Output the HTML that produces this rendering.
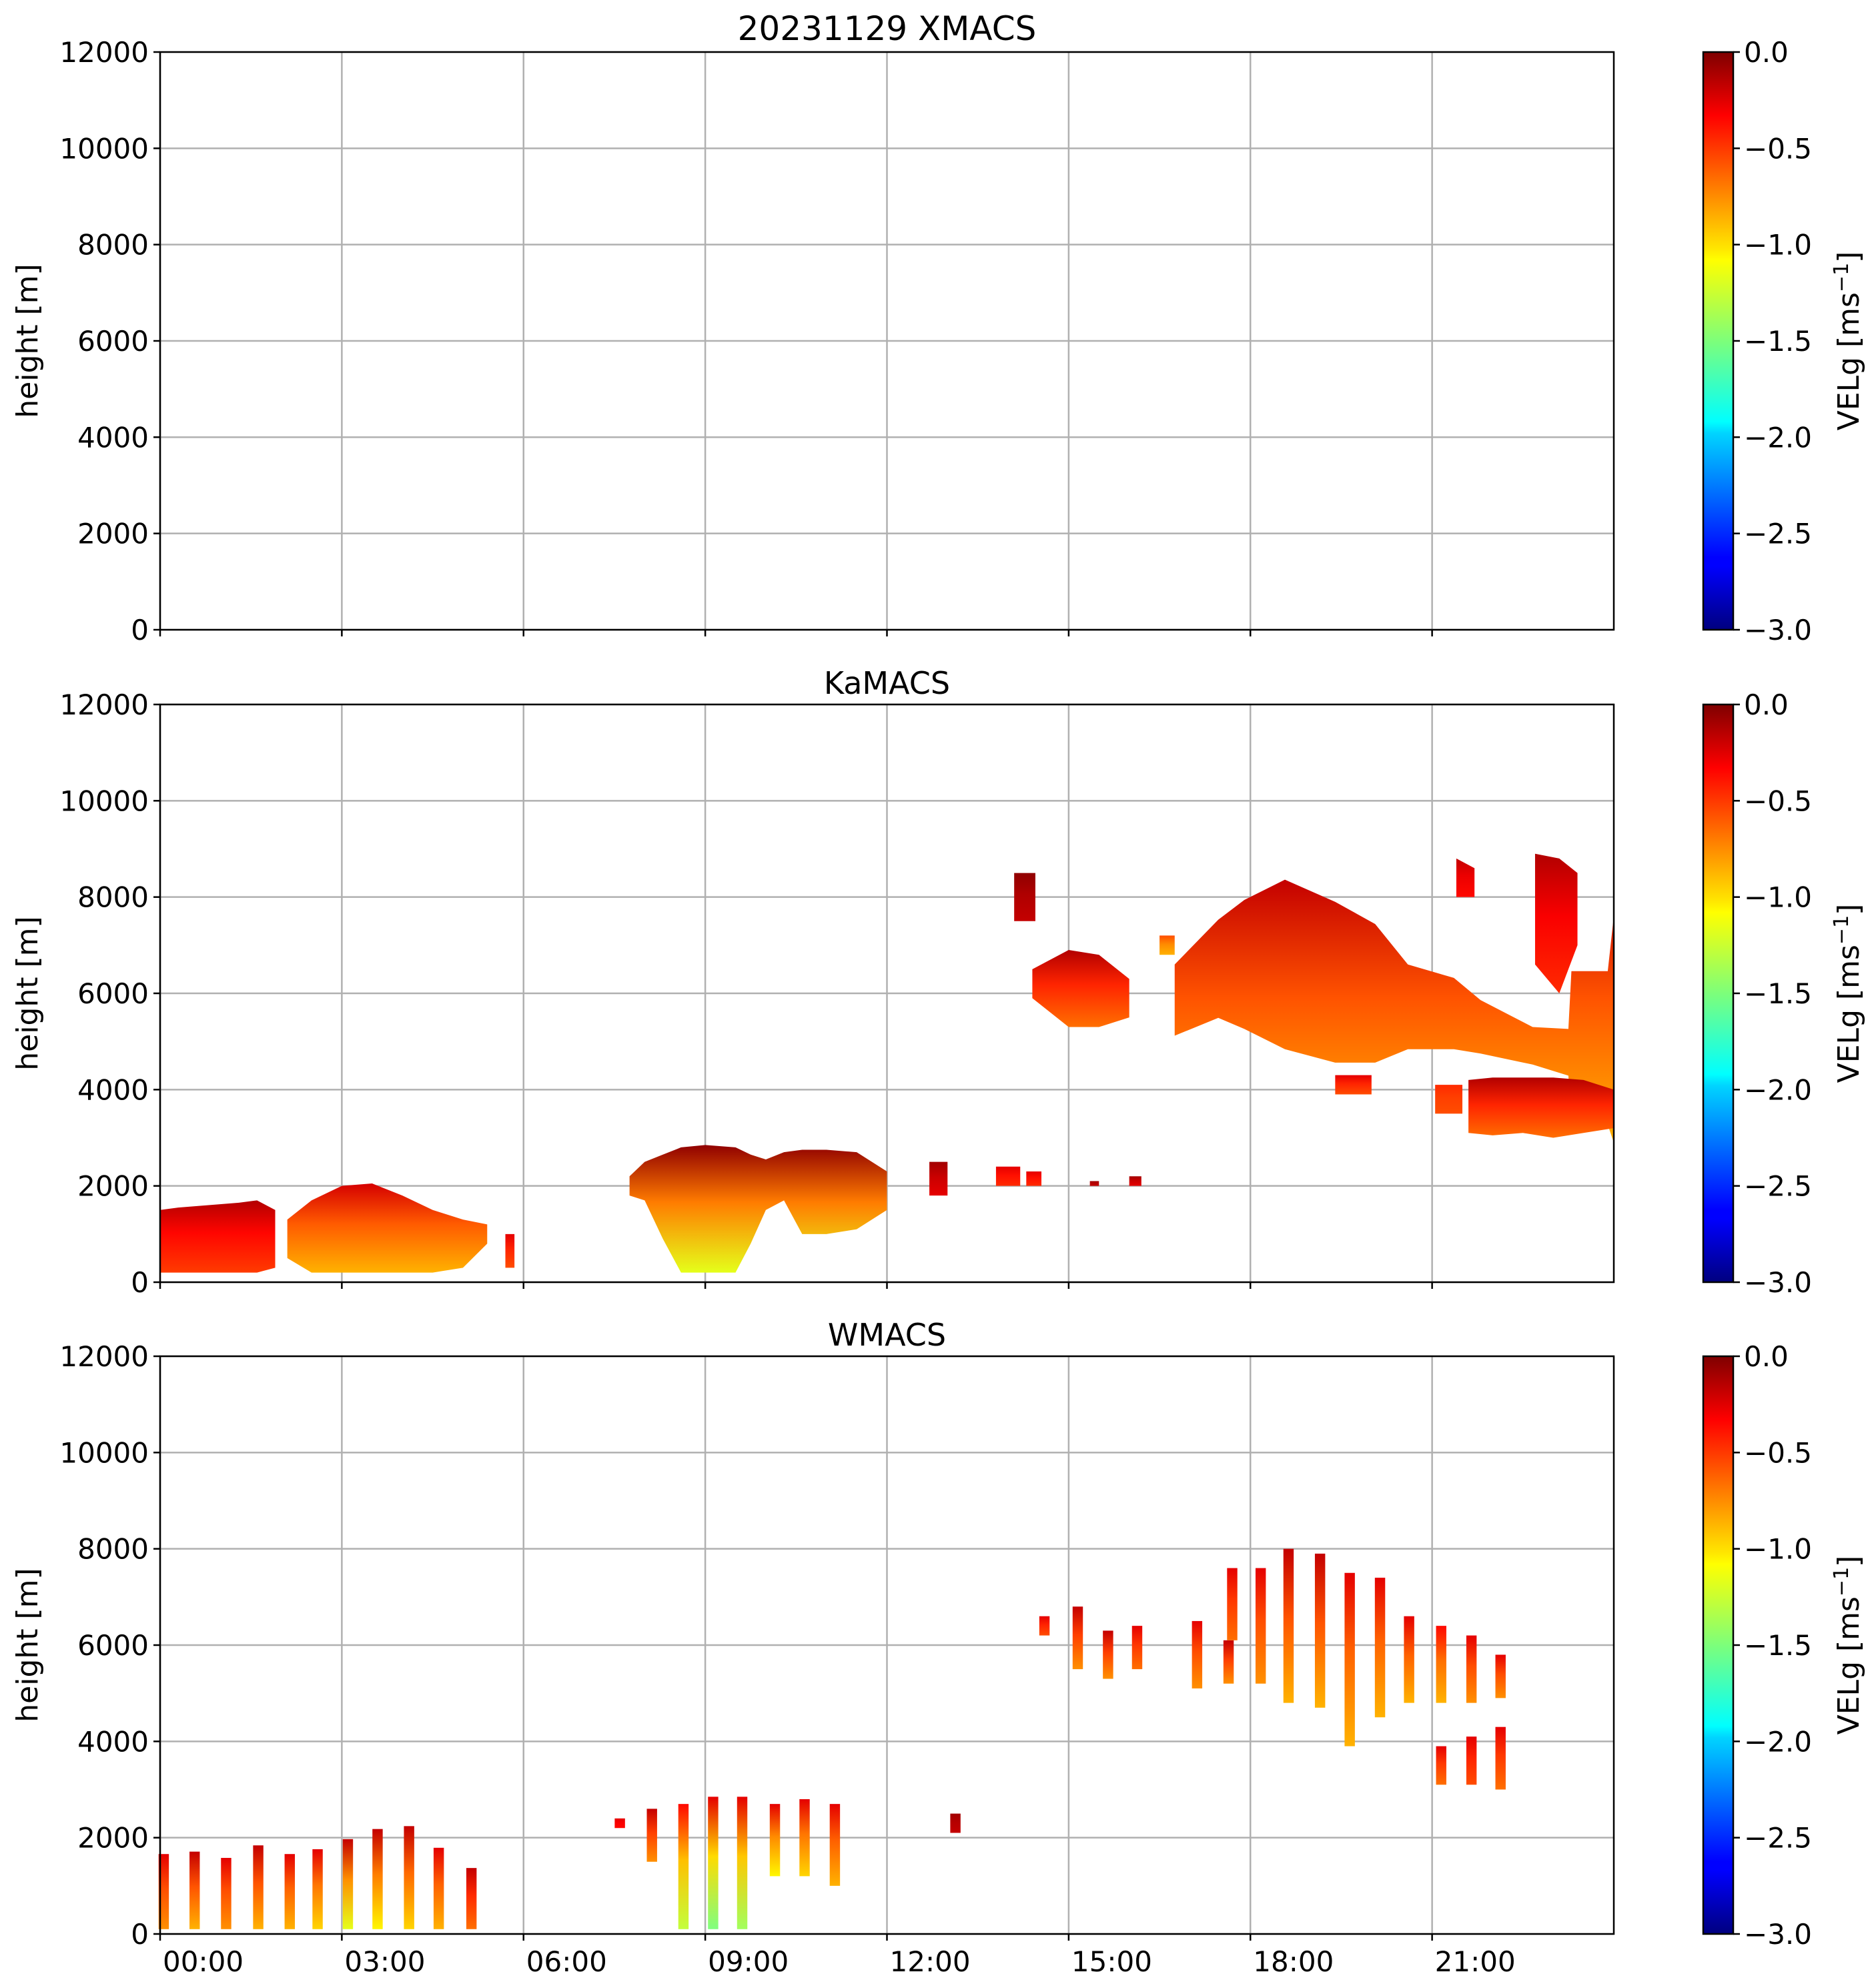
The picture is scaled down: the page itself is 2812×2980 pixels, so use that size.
<!DOCTYPE html>
<html><head><meta charset="utf-8"><style>
html,body{margin:0;padding:0;background:#fff}
svg{display:block}
text{font-family:"DejaVu Sans","Liberation Sans",sans-serif;fill:#000}
</style></head><body>
<svg id="fig" width="2812" height="2980" viewBox="0 0 2812 2980" xmlns="http://www.w3.org/2000/svg">
<defs id="defs">
<linearGradient id="jetbar" x1="0" y1="1" x2="0" y2="0">
<stop offset="0" stop-color="#00007f"/><stop offset="0.11" stop-color="#0000ff"/><stop offset="0.125" stop-color="#0000ff"/><stop offset="0.34" stop-color="#00d4ff"/><stop offset="0.36" stop-color="#0ff"/><stop offset="0.5" stop-color="#7dff7a"/><stop offset="0.64" stop-color="#ff0"/><stop offset="0.66" stop-color="#ffe600"/><stop offset="0.89" stop-color="#ff0000"/><stop offset="1" stop-color="#7f0000"/>
</linearGradient>
</defs>
<g id="root"></g>
</svg>
<script>
// ---- data ----
const panelNames = ["XMACS","KaMACS","WMACS"];
const yTicks = [0,2000,4000,6000,8000,10000,12000];
const xTickHours = [0,3,6,9,12,15,18,21];
const xTickLabels = ["00:00","03:00","06:00","09:00","12:00","15:00","18:00","21:00"];
const cbTicks = [0,-0.5,-1,-1.5,-2,-2.5,-3];
const cbLabels = ["0.0","\u22120.5","\u22121.0","\u22121.5","\u22122.0","\u22122.5","\u22123.0"];

// KaMACS cloud blobs: hour nodes, top & bottom heights (m), velocity at top / bottom
const kaBlobHours = [
 [0.0,0.3,0.8,1.3,1.6,1.9],
 [2.1,2.5,3.0,3.5,4.0,4.5,5.0,5.4],
 [5.7,5.85],
 [7.75,8.0,8.3,8.6,9.0,9.5,9.75,10.0,10.3,10.6,11.0,11.5,12.0],
 [12.7,13.0],[13.8,14.2],[14.3,14.55],[15.35,15.5],[16.0,16.2],
 [14.1,14.45],
 [14.4,15.0,15.5,16.0],
 [16.5,16.75],
 [16.75,17.47,17.9,18.57,19.4,20.06,20.6,21.36,21.8,22.66,23.25,23.3,23.9,24.0],
 [21.6,22.0,22.5,23.0,23.5,24.0],
 [21.05,21.5],
 [19.4,20.0],
 [21.4,21.7],[22.7,23.1,23.4]
];
const kaBlobTops = [
 [1500,1550,1600,1650,1700,1500],
 [1300,1700,2000,2050,1800,1500,1300,1200],
 [1000,1000],
 [2200,2500,2650,2800,2850,2800,2650,2550,2700,2750,2750,2700,2300],
 [2500,2500],[2400,2400],[2300,2300],[2100,2100],[2200,2200],
 [8500,8500],
 [6500,6900,6800,6300],
 [7200,7200],
 [6600,7530,7940,8360,7900,7440,6600,6320,5860,5300,5260,6460,6460,7600],
 [4200,4250,4250,4250,4200,4000],
 [4100,4100],
 [4300,4300],
 [8800,8600],[8900,8800,8500]
];
const kaBlobBots = [
 [200,200,200,200,200,300],
 [500,200,200,200,200,200,300,800],
 [300,300],
 [1800,1700,900,200,200,200,800,1500,1700,1000,1000,1100,1500],
 [1800,1800],[2000,2000],[2000,2000],[2000,2000],[2000,2000],
 [7500,7500],
 [5900,5300,5300,5500],
 [6800,6800],
 [5120,5490,5260,4840,4560,4560,4840,4840,4750,4520,4290,3270,3270,2900],
 [3100,3050,3100,3000,3100,3200],
 [3500,3500],
 [3900,3900],
 [8000,8000],[6600,6000,7000]
];
const kaBlobVTop = [-0.15,-0.25,-0.3,-0.05,-0.1,-0.3,-0.3,-0.1,-0.1,-0.05,-0.15,-0.6,-0.2,-0.15,-0.5,-0.3,-0.2,-0.15];
const kaBlobVBot = [-0.55,-0.9,-0.6,-1.2,-0.3,-0.5,-0.5,-0.2,-0.3,-0.2,-0.7,-0.9,-0.9,-0.7,-0.6,-0.6,-0.4,-0.5];

// WMACS columns: hour, top, bottom, velocity top, velocity bottom
const wHours = [0.06,0.57,1.09,1.62,2.14,2.6,3.1,3.59,4.11,4.6,5.14,
 7.59,8.12,8.64,9.13,9.61,10.15,10.64,11.14,13.13,
 14.6,15.15,15.65,16.13,17.12,17.64,17.7,18.17,18.63,19.15,19.64,20.14,20.62,21.15,21.15,21.65,21.65,22.13,22.13];
const wTops = [1660,1710,1580,1840,1660,1760,1970,2180,2240,1790,1370,
 2400,2600,2700,2850,2850,2700,2800,2700,2500,
 6600,6800,6300,6400,6500,6100,7600,7600,8000,7900,7500,7400,6600,6400,3900,6200,4100,5800,4300];
const wBots = [100,100,100,100,100,100,100,100,100,100,100,
 2200,1500,100,100,100,1200,1200,1000,2100,
 6200,5500,5300,5500,5100,5200,6100,5200,4800,4700,3900,4500,4800,4800,3100,4800,3100,4900,3000];
const wVTop = [-0.3,-0.2,-0.3,-0.2,-0.3,-0.3,-0.2,-0.2,-0.2,-0.3,-0.2,
 -0.3,-0.2,-0.4,-0.3,-0.3,-0.3,-0.3,-0.3,-0.1,
 -0.3,-0.2,-0.2,-0.3,-0.3,-0.2,-0.3,-0.3,-0.2,-0.2,-0.3,-0.3,-0.3,-0.4,-0.3,-0.3,-0.3,-0.3,-0.3];
const wVBot = [-0.8,-0.9,-0.8,-0.9,-0.9,-1.0,-1.2,-1.1,-1.0,-0.9,-0.7,
 -0.4,-0.8,-1.3,-1.5,-1.4,-1.1,-1.0,-0.9,-0.2,
 -0.6,-0.8,-0.8,-0.7,-0.8,-0.8,-0.7,-0.8,-0.9,-0.9,-0.9,-0.9,-0.9,-0.9,-0.7,-0.8,-0.6,-0.8,-0.7];
const wWidthH = 0.17;

// ---- layout ----
const NS="http://www.w3.org/2000/svg";
const root=document.getElementById('root');
const defs=document.getElementById('defs');
const X0=240, X1=2419;
const panelTops=[78,1056,2033];
const PH=866;
const CBX=2553, CBW=45;
function xs(h){return X0+(h/24)*(X1-X0);}
function ys(p,m){return panelTops[p]+PH-(m/12000)*PH;}
function jet(v){
  let t=Math.max(0,Math.min(1,(v+3)/3));
  function c(x){return Math.max(0,Math.min(1,x));}
  const r=c(1.5-Math.abs(4*t-3)), g=c(1.5-Math.abs(4*t-2)), b=c(1.5-Math.abs(4*t-1));
  return `rgb(${Math.round(r*255)},${Math.round(g*255)},${Math.round(b*255)})`;
}
function el(tag,attrs,parent){const e=document.createElementNS(NS,tag);for(const k in attrs)e.setAttribute(k,attrs[k]);(parent||root).appendChild(e);return e;}
let gid=0;
function grad(vt,vb){
  const id='g'+(gid++);
  const g=el('linearGradient',{id:id,x1:0,y1:0,x2:0,y2:1},defs);
  el('stop',{offset:0,'stop-color':jet(vt)},g);
  el('stop',{offset:0.45,'stop-color':jet(vt*0.4+vb*0.6)},g);
  el('stop',{offset:1,'stop-color':jet(vb)},g);
  return id;
}

for(let p=0;p<3;p++){
  const top=panelTops[p], bot=top+PH;
  const g=el('g',{});
  
  
  xTickHours.forEach(h=>{
    const l=el('line',{x1:xs(h),x2:xs(h),y1:top,y2:bot,stroke:'#b0b0b0','stroke-width':2.5},g);
    
    
  });
  yTicks.forEach(v=>{
    const l=el('line',{x1:X0,x2:X1,y1:ys(p,v),y2:ys(p,v),stroke:'#b0b0b0','stroke-width':2.5},g);
    
    
  });
  const data=el('g',{},g);
  
  
  if(p===1){
    kaBlobHours.forEach((hs,i)=>{
      let pts=[];
      hs.forEach((h,j)=>pts.push(xs(h)+','+ys(1,kaBlobTops[i][j])));
      for(let j=hs.length-1;j>=0;j--) pts.push(xs(hs[j])+','+ys(1,kaBlobBots[i][j]));
      const pg=el('polygon',{points:pts.join(' '),fill:'url(#'+grad(kaBlobVTop[i],kaBlobVBot[i])+')'},data);
      
      
    });
  }
  if(p===2){
    wHours.forEach((h,i)=>{
      const x=xs(h-wWidthH/2), w=xs(h+wWidthH/2)-x;
      const r=el('rect',{x:x,y:ys(2,wTops[i]),width:w,height:ys(2,wBots[i])-ys(2,wTops[i]),fill:'url(#'+grad(wVTop[i],wVBot[i])+')'},data);
      
      
    });
  }
  const fr=el('rect',{x:X0,y:top,width:X1-X0,height:PH,fill:'none',stroke:'#000','stroke-width':2.5},g);
  
  
  yTicks.forEach(v=>{
    el('line',{x1:X0-10,x2:X0,y1:ys(p,v),y2:ys(p,v),stroke:'#000','stroke-width':2.5},g);
    const t=el('text',{x:X0-17,y:ys(p,v)+15,'text-anchor':'end','font-size':42},g);
    t.textContent=String(v);
    
    
  });
  xTickHours.forEach((h,i)=>{
    el('line',{x1:xs(h),x2:xs(h),y1:bot,y2:bot+10,stroke:'#000','stroke-width':2.5},g);
    if(p===2){
      const t=el('text',{x:xs(h)+4,y:bot+56,'font-size':42},g);
      t.textContent=xTickLabels[i];
      
      
    }
  });
  const yl=el('text',{x:0,y:0,'font-size':44,'text-anchor':'middle',transform:`translate(56,${top+PH/2}) rotate(-90)`},g);
  yl.textContent='height [m]';
  
  
  const ti=el('text',{x:(X0+X1)/2,y:p===0?top-18:top-16,'font-size':p===0?50:46,'text-anchor':'middle'},g);
  ti.textContent=p===0?'20231129 XMACS':panelNames[p];
  
  
  const cb=el('g',{},g);
  
  
  el('rect',{x:CBX,y:top,width:CBW,height:PH,fill:'url(#jetbar)',stroke:'#000','stroke-width':2.5},cb);
  cbTicks.forEach((v,i)=>{
    const y=top+(-v/3)*PH;
    el('line',{x1:CBX+CBW,x2:CBX+CBW+10,y1:y,y2:y,stroke:'#000','stroke-width':2.5},cb);
    const t=el('text',{x:CBX+CBW+16,y:y+15,'font-size':42},cb);
    t.textContent=cbLabels[i];
    
    
  });
  const cl=el('text',{x:0,y:0,'font-size':44,'text-anchor':'middle',transform:`translate(2786,${top+PH/2}) rotate(-90)`},cb);
  cl.innerHTML='VELg [ms<tspan dy="-16" font-size="30">\u22121</tspan><tspan dy="16">]</tspan>';
  
  
}
</script>
</body></html>
